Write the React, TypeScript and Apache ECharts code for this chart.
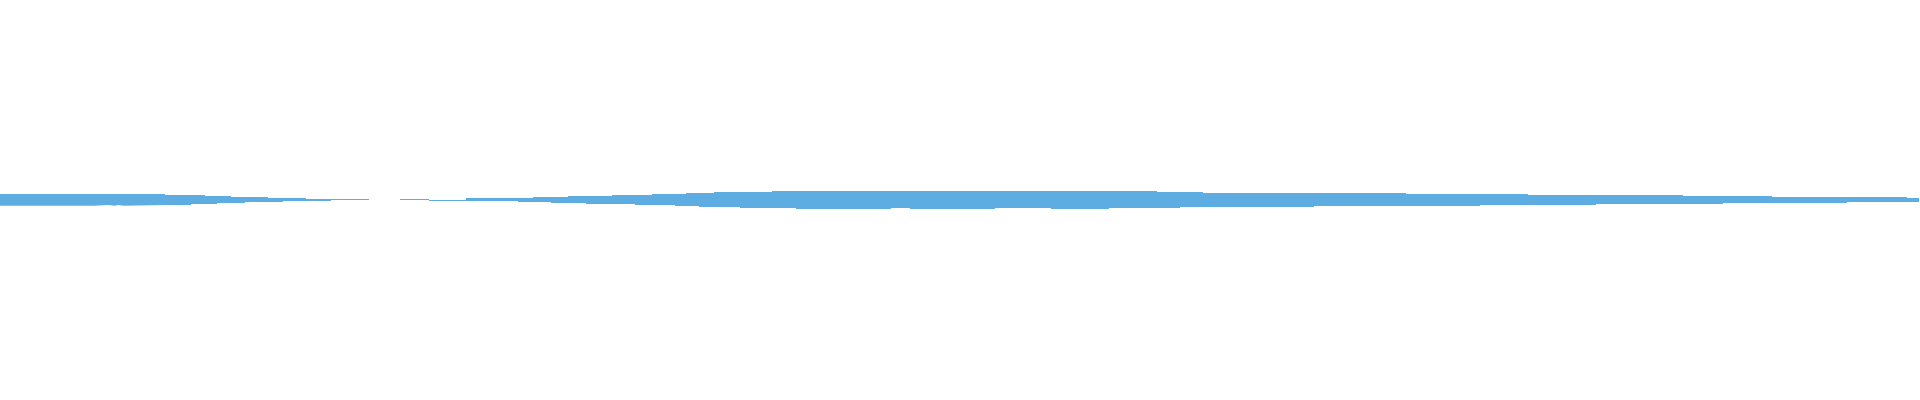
import React, { useEffect, useRef } from "react";
import * as echarts from "echarts";

// time positions where either edge of the band changes (data gap at 36.9)
const times: number[] = [
  0, 9.4, 10.8, 11.5, 11.8, 12.4, 16.5, 19.1, 20.5, 21.7, 23.1, 24.5, 26.8, 28.3,
  30.6, 33.1, 36.9, 40.0, 42.9, 46.6, 51.8, 53.3, 55.1, 56.8, 58.6, 61.2,
  63.5, 65.2, 67.5, 68.6, 69.9, 71.4, 74.0, 77.2, 79.6, 89.1, 91.0, 99.5, 105.1,
  110.9, 115.7, 118.0, 120.3, 131.4, 140.6, 148.0, 152.8, 159.6, 168.3, 172.3,
  177.2, 184.7, 190.7, 191.9,
];

// upper bound of the band
const upper: (number | null)[] = [
  6, 6, 6, 6, 6, 6, 5, 5, 4, 4, 3, 3, 2, 2,
  1, 0.9, null, 0.9, 0.1, 2, 2, 3, 3, 4, 4, 5,
  5, 6, 6, 7, 7, 8, 8, 9, 9, 9, 9, 9, 9,
  9, 8, 8, 7, 7, 6, 6, 5, 5, 4, 4,
  3, 3, 2, 2,
];

// lower bound of the band
const lower: (number | null)[] = [
  -5.7, -5, -5.7, -5, -5.7, -5, -5, -4, -4, -3, -3, -2, -2, -1,
  -1, -0.1, null, -0.1, -0.9, -1, -2, -2, -3, -3, -4, -4,
  -5, -5, -6, -6, -7, -7, -8, -8, -9, -8, -9, -8, -9,
  -8, -8, -7, -7, -6, -6, -5, -5, -4, -4, -3,
  -3, -2, -2, -2,
];

const BAND_COLOR = "#5DADE2";

export default function App() {
  const ref = useRef<HTMLDivElement>(null);

  useEffect(() => {
    if (!ref.current) return;
    const chart = echarts.init(ref.current, undefined, { renderer: "svg" });

    const mk = (vals: (number | null)[]) => times.map((t, i) => [t, vals[i]]);

    const common = {
      type: "line",
      step: "end",
      symbol: "none",
      showSymbol: false,
      connectNulls: false,
      lineStyle: { width: 0, opacity: 0 },
      areaStyle: { color: BAND_COLOR, opacity: 1, origin: 0 },
    };

    chart.setOption({
      animation: false,
      grid: { left: 0, right: 0, top: 0, bottom: 0 },
      xAxis: { type: "value", min: 0, max: 192, show: false },
      yAxis: { type: "value", min: -200, max: 200, show: false },
      series: [
        { ...common, name: "upper", data: mk(upper) },
        { ...common, name: "lower", data: mk(lower) },
      ],
    });

    return () => chart.dispose();
  }, []);

  return (
    <div
      ref={ref}
      style={{ position: "absolute", left: 0, top: 0, width: 1920, height: 400 }}
    />
  );
}
